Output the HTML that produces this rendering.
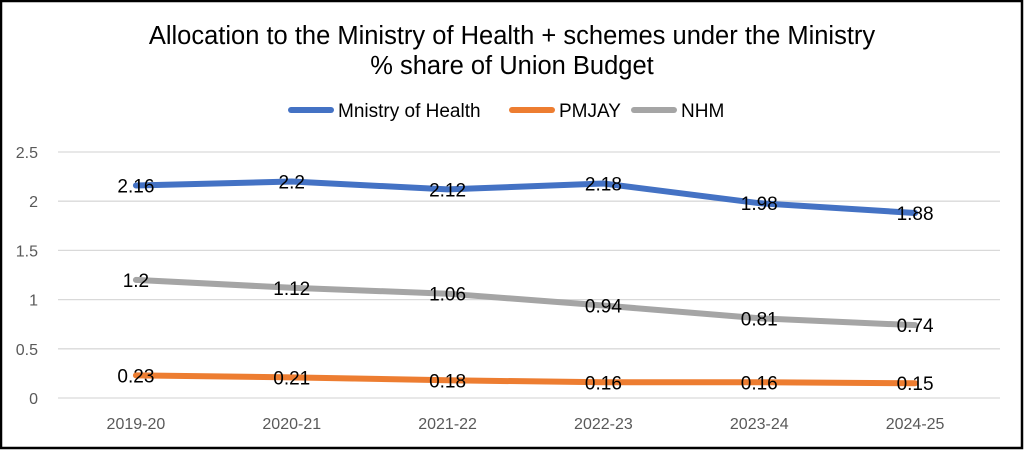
<!DOCTYPE html>
<html><head><meta charset="utf-8"><style>
html,body{margin:0;padding:0;background:#fff}
svg{display:block;font-family:"Liberation Sans",sans-serif}
</style></head><body>
<svg width="1024" height="450" viewBox="0 0 1024 450">
<rect x="1" y="1" width="1021" height="447" fill="#fff" stroke="#000" stroke-width="2.5"/>
<text x="512" y="44" text-anchor="middle" font-size="25.5" fill="#000">Allocation to the Ministry of Health + schemes under the Ministry</text>
<text x="512" y="74" text-anchor="middle" font-size="25.5" fill="#000">% share of Union Budget</text>
<g>
<g><line x1="291" y1="110" x2="331" y2="110" stroke="#4472C4" stroke-width="6" stroke-linecap="round"/><text x="338" y="117" font-size="19">Mnistry of Health</text></g>
<g><line x1="512" y1="110" x2="552" y2="110" stroke="#ED7D31" stroke-width="6" stroke-linecap="round"/><text x="559" y="117" font-size="19">PMJAY</text></g>
<g><line x1="634" y1="110" x2="674" y2="110" stroke="#A5A5A5" stroke-width="6" stroke-linecap="round"/><text x="681" y="117" font-size="19">NHM</text></g>
</g>
<g id="grid"></g><g id="axes"></g><g id="series"></g><g id="labels"></g>
</svg>
<script>
const categories=["2019-20","2020-21","2021-22","2022-23","2023-24","2024-25"];
const ministry=[2.16,2.2,2.12,2.18,1.98,1.88];
const pmjay=[0.23,0.21,0.18,0.16,0.16,0.15];
const nhm=[1.2,1.12,1.06,0.94,0.81,0.74];
const yTicks=[0,0.5,1,1.5,2,2.5];
const NS="http://www.w3.org/2000/svg";
const x0=58,x1=993,y0=398,y1=152,yMax=2.5;
const band=(x1-x0)/categories.length;
function xs(i){return x0+band*(i+0.5);}
function ys(v){return y0-(v/yMax)*(y0-y1);}
function mk(tag,attrs,parent){const e=document.createElementNS(NS,tag);for(const k in attrs)e.setAttribute(k,attrs[k]);parent.appendChild(e);return e;}
const grid=document.getElementById('grid'),axes=document.getElementById('axes'),ser=document.getElementById('series'),lab=document.getElementById('labels');
yTicks.forEach(t=>{
 const l=mk('line',{x1:58,x2:1000,y1:ys(t),y2:ys(t),stroke:'#D9D9D9','stroke-width':1.3},grid);
 
 
 const tx=mk('text',{x:38,y:ys(t)+6,'text-anchor':'end','font-size':16,fill:'#595959'},axes);
 tx.textContent=String(t);
 
 
});
categories.forEach((c,i)=>{
 const tx=mk('text',{x:xs(i),y:429,'text-anchor':'middle','font-size':16,fill:'#595959'},axes);
 tx.textContent=c;
 
 
});
[[nhm,'#A5A5A5','nhm'],[pmjay,'#ED7D31','pmjay'],[ministry,'#4472C4','ministry']].forEach(([d,col,n])=>{
 const p=mk('polyline',{points:d.map((v,i)=>xs(i)+','+ys(v)).join(' '),fill:'none',stroke:col,'stroke-width':6,'stroke-linecap':'round','stroke-linejoin':'round'},ser);
 
 
 d.forEach((v,i)=>{
  const t=mk('text',{x:xs(i),y:ys(v)+7,'text-anchor':'middle','font-size':19,fill:'#000'},lab);
  t.textContent=String(v);
  
  
 });
});
</script>
</body></html>
